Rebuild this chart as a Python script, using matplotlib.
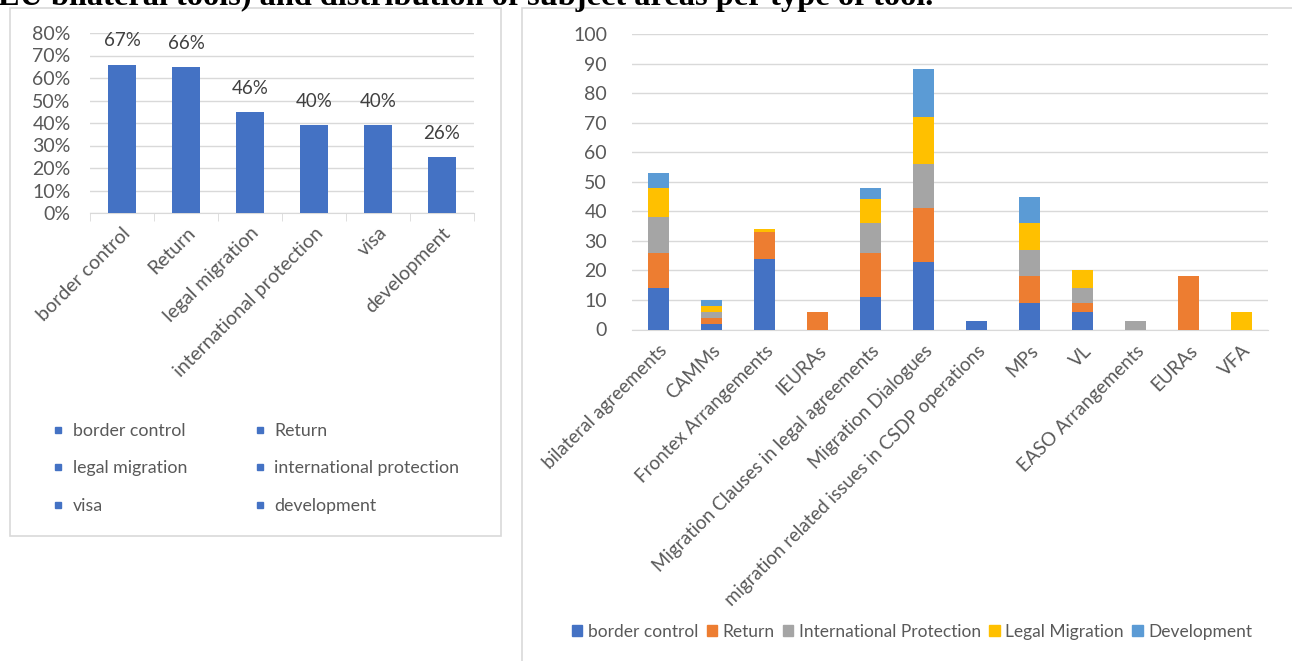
import matplotlib
matplotlib.use("Agg")
import matplotlib.pyplot as plt
from matplotlib.patches import Rectangle, Patch
from matplotlib.lines import Line2D
import numpy as np

# ---------------- data ----------------
left_categories = ["border control", "Return", "legal migration",
                   "international protection", "visa", "development"]
left_values = [0.66, 0.65, 0.45, 0.39, 0.39, 0.25]
left_labels = ["67%", "66%", "46%", "40%", "40%", "26%"]
left_ticks = [0.0, 0.1, 0.2, 0.3, 0.4, 0.5, 0.6, 0.7, 0.8]

tools = ["bilateral agreements", "CAMMs", "Frontex Arrangements", "IEURAs",
         "Migration Clauses in legal agreements", "Migration Dialogues",
         "migration related issues in CSDP operations", "MPs", "VL",
         "EASO Arrangements", "EURAs", "VFA"]
series_names = ["border control", "Return", "International Protection",
                "Legal Migration", "Development"]
border_control = [14, 2, 24, 0, 11, 23, 3, 9, 6, 0, 0, 0]
return_vals = [12, 2, 9, 6, 15, 18, 0, 9, 3, 0, 18, 0]
intl_protection = [12, 2, 0, 0, 10, 15, 0, 9, 5, 3, 0, 0]
legal_migration = [10, 2, 1, 0, 8, 16, 0, 9, 6, 0, 0, 6]
development = [5, 2, 0, 0, 4, 16, 0, 9, 0, 0, 0, 0]
right_ticks = list(range(0, 101, 10))

title_text = "EU bilateral tools) and distribution of subject areas per type of tool."

# ---------------- style ----------------
W, H = 1292, 661
FONT = ["Lato", "DejaVu Sans"]
NARROW = ["Liberation Sans Narrow", "Lato", "DejaVu Sans"]
plt.rcParams["font.family"] = FONT
TXT = "#595959"
GRID = "#D9D9D9"
BLUE = "#4472C4"
colors = ["#4472C4", "#ED7D31", "#A5A5A5", "#FFC000", "#5B9BD5"]

fig = plt.figure(figsize=(W / 100, H / 100), dpi=100)
fig.patch.set_facecolor("white")

def fx(px):
    return px / W

def fy(py):
    return 1 - py / H

# panel borders
fig.add_artist(Rectangle((fx(10), fy(536)), fx(501) - fx(10), fy(8) - fy(536),
                         transform=fig.transFigure, fill=False, ec=GRID, lw=1.2))
fig.add_artist(Rectangle((fx(522), fy(700)), fx(1300) - fx(522), fy(8) - fy(700),
                         transform=fig.transFigure, fill=False, ec=GRID, lw=1.2))

# title (clipped at top, as in the source)
fig.text(fx(-2), fy(5), title_text, va="baseline", ha="left", fontsize=23.3,
         family=["Liberation Serif", "DejaVu Serif"], weight="bold", color="black")

# ---------------- left chart ----------------
axL = fig.add_axes([fx(90), fy(213), fx(474) - fx(90), fy(33) - fy(213)])
xl = np.arange(len(left_categories))
bars = axL.bar(xl, left_values, width=0.44, color=BLUE, zorder=3)
for b, lab in zip(bars, left_labels):
    axL.annotate(lab, (b.get_x() + b.get_width() / 2, b.get_height()),
                 xytext=(0, 17), textcoords="offset points",
                 ha="center", va="center", fontsize=13.5, color="#404040")
axL.set_xlim(-0.5, len(left_categories) - 0.5)
axL.set_ylim(0, 0.8)
axL.set_yticks(left_ticks)
axL.set_yticklabels([f"{int(round(t * 100))}%" for t in left_ticks])
axL.yaxis.grid(True, color=GRID, lw=1, zorder=0)
axL.set_axisbelow(True)
for s in ["top", "right", "left"]:
    axL.spines[s].set_visible(False)
axL.spines["bottom"].set_color(GRID)
axL.tick_params(axis="y", length=0, labelsize=14, labelcolor=TXT, pad=14)
axL.set_xticks(xl)
axL.set_xticklabels(left_categories, rotation=45, ha="right",
                    rotation_mode="anchor", fontsize=14, color=TXT)
axL.tick_params(axis="x", which="major", length=0, pad=8)
axL.set_xticks(np.arange(-0.5, len(left_categories), 1), minor=True)
axL.tick_params(axis="x", which="minor", length=6, color=GRID)

handlesL = [Line2D([], [], marker="s", ls="", color=BLUE, markersize=5)
            for _ in left_categories]
order = [0, 2, 4, 1, 3, 5]
legL = fig.legend([handlesL[i] for i in order], [left_categories[i] for i in order],
                  ncol=2, loc="upper left", bbox_to_anchor=(fx(46), fy(416)),
                  frameon=False, fontsize=12.8, labelcolor=TXT,
                  handlelength=0.6, handletextpad=0.5, columnspacing=3.8,
                  labelspacing=1.2, borderaxespad=0)

# ---------------- right chart ----------------
axR = fig.add_axes([fx(632), fy(329.5), fx(1268) - fx(632), fy(34) - fy(329.5)])
xr = np.arange(len(tools))
stack = [border_control, return_vals, intl_protection, legal_migration, development]
bottom = np.zeros(len(tools))
for name, vals, c in zip(series_names, stack, colors):
    axR.bar(xr, vals, bottom=bottom, width=0.4, color=c, label=name, zorder=3)
    bottom += np.array(vals)
axR.set_xlim(-0.5, len(tools) - 0.5)
axR.set_ylim(0, 100)
axR.set_yticks(right_ticks)
axR.yaxis.grid(True, color=GRID, lw=1, zorder=0)
axR.set_axisbelow(True)
for s in ["top", "right", "left"]:
    axR.spines[s].set_visible(False)
axR.spines["bottom"].set_color(GRID)
axR.tick_params(axis="y", length=0, labelsize=14, labelcolor=TXT, pad=18)
axR.set_xticks(xr)
axR.set_xticklabels(tools, rotation=45, ha="right", rotation_mode="anchor",
                    fontsize=13.5, color=TXT)
axR.tick_params(axis="x", length=0, pad=9)

handlesR = [Patch(color=c) for c in colors]
fig.legend(handlesR, series_names, ncol=5, loc="center",
           bbox_to_anchor=(fx(912), fy(632)), frameon=False,
           prop={"family": NARROW, "size": 12.5}, labelcolor=TXT,
           handlelength=0.6, handleheight=0.6, handletextpad=0.3,
           columnspacing=0.5, borderaxespad=0)

fig.savefig("out.png", dpi=100, facecolor="white")
